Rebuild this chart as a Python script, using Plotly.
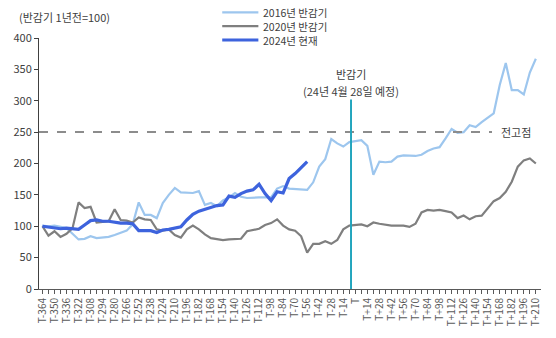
import plotly.graph_objects as go

# Weekly offsets (days) relative to the halving date T
days = list(range(-364, 211, 7))

# Price index (one year before halving = 100)
cycle_2016 = [101, 100, 101, 99, 97, 88, 79, 80, 84, 81, 82, 83, 86, 90, 93, 103,
              138, 118, 118, 113, 137, 150, 161, 154, 153, 153, 156, 134, 137, 132,
              141, 146, 153, 147, 145, 146, 146, 146, 146, 160, 164, 160, 159, 159,
              158, 170, 195, 207, 239, 232, 227, 234, 236, 237, 228, 182, 203, 202,
              203, 211, 213, 213, 212, 214, 220, 224, 226, 240, 255, 249, 250, 261,
              258, 266, 273, 280, 325, 360, 317, 317, 310, 345, 367]
cycle_2020 = [100, 85, 92, 83, 88, 97, 138, 129, 131, 106, 107, 108, 127, 110, 109,
              106, 114, 111, 110, 95, 93, 95, 86, 82, 95, 101, 95, 87, 81, 79, 78, 79,
              79, 80, 92, 94, 96, 102, 105, 111, 101, 95, 93, 84, 58, 72, 72, 76, 72,
              78, 95, 101, 102, 103, 100, 106, 104, 102, 101, 101, 101, 99, 104, 122,
              126, 125, 126, 124, 122, 113, 117, 111, 116, 117, 128, 140, 145, 155,
              171, 195, 205, 208, 200]
cycle_2024 = [100, 99, 98, 96, 97, 96, 95, 102, 109, 110, 108, 108, 106, 105, 105,
              104, 93, 93, 93, 90, 94, 95, 97, 99, 110, 119, 124, 127, 131, 133, 134,
              148, 146, 152, 156, 158, 167, 152, 141, 155, 153, 176, 184, 193, 203]

series = [
    ("2016년 반감기", cycle_2016, "#9DC6EE", 2.2),
    ("2020년 반감기", cycle_2020, "#7F7F7F", 2.2),
    ("2024년 현재", cycle_2024, "#3D63DD", 3.2),
]

tick_days = list(range(-364, 211, 14))
tick_text = ["T" if d == 0 else (f"T+{d}" if d > 0 else f"T{d}") for d in tick_days]

prev_high = 250
# expected halving (Apr 28) sits just ahead of the T tick
halving_day = -5

FONT = "Noto Sans CJK KR, Malgun Gothic, sans-serif"
TXT = "#404040"

fig = go.Figure()
for name, vals, color, width in series:
    fig.add_trace(go.Scatter(
        x=days[:len(vals)], y=vals, mode="lines", name=name,
        line=dict(color=color, width=width), showlegend=False,
    ))

shapes = []
annotations = []

# previous-high reference line
shapes.append(dict(type="line", xref="x", yref="y", x0=-368, x1=159,
                   y0=prev_high, y1=prev_high,
                   line=dict(color="#8C8C8C", width=2, dash="dash")))
annotations.append(dict(x=187, y=prev_high, xref="x", yref="y", text="전고점",
                        showarrow=False, font=dict(size=11, color=TXT),
                        xanchor="center", yanchor="middle"))

# halving marker
shapes.append(dict(type="line", xref="x", yref="y", x0=halving_day, x1=halving_day,
                   y0=0, y1=302, line=dict(color="#22A5BD", width=2)))
annotations.append(dict(x=halving_day, y=342, xref="x", yref="y", text="반감기",
                        showarrow=False, font=dict(size=11, color=TXT)))
annotations.append(dict(x=halving_day, y=315, xref="x", yref="y",
                        text="(24년 4월 28일 예정)",
                        showarrow=False, font=dict(size=11, color=TXT)))

# unit note
annotations.append(dict(x=-0.044, y=1.083, xref="paper", yref="paper",
                        text="(반감기 1년전=100)", showarrow=False,
                        xanchor="left", yanchor="middle",
                        font=dict(size=11, color=TXT)))

# legend drawn as line samples with labels
leg_y = [1.102, 1.047, 0.992]
for (name, _, color, width), ly in zip(series, leg_y):
    shapes.append(dict(type="line", xref="paper", yref="paper",
                       x0=0.365, x1=0.437, y0=ly, y1=ly,
                       line=dict(color=color, width=width)))
    annotations.append(dict(x=0.442, y=ly, xref="paper", yref="paper", text=name,
                            showarrow=False, xanchor="left", yanchor="middle",
                            font=dict(size=10.5, color=TXT)))

fig.update_layout(
    width=556, height=338,
    margin=dict(l=39, r=15, t=38, b=46),
    paper_bgcolor="white", plot_bgcolor="white",
    font=dict(family=FONT, size=11, color=TXT),
    shapes=shapes, annotations=annotations,
)
fig.update_xaxes(
    range=[-368, 216], tickvals=tick_days, ticktext=tick_text,
    tickangle=-90, tickfont=dict(size=10, color="#595959"),
    showgrid=False, zeroline=False, showline=True, linecolor="#595959",
    linewidth=1, ticks="outside", ticklen=4, tickcolor="#595959",
    minor=dict(tickvals=list(range(-357, 211, 14)), ticks="outside",
               ticklen=4, tickcolor="#595959"),
)
fig.update_yaxes(
    range=[0, 400], tickvals=list(range(0, 401, 50)),
    tickfont=dict(size=11, color=TXT),
    showgrid=False, zeroline=False, showline=True, linecolor="#404040",
    linewidth=1, ticks="outside", ticklen=4, tickcolor="#404040",
)

fig.write_html("out.html")
